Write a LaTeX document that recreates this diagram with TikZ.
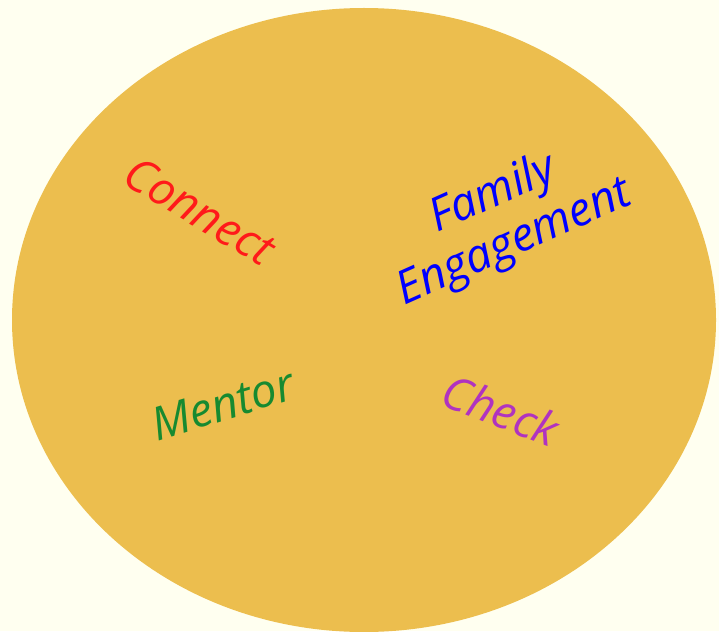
\documentclass[tikz,border=0pt]{standalone}
\usepackage{fontspec}
\setmainfont{Open Sans}
\usepackage{tikz}
\usetikzlibrary{positioning}
\definecolor{bgIvory}{HTML}{FFFFF0}
\definecolor{blobGold}{HTML}{ECBE4E}
\definecolor{connectRed}{HTML}{FF1A1A}
\definecolor{familyBlue}{HTML}{0000FF}
\definecolor{mentorGreen}{HTML}{178A30}
\definecolor{checkPurple}{HTML}{B033C0}
\tikzstyle{wordNode}=[inner sep=0pt, font=\fontsize{46}{53}\selectfont\itshape, align=center]

\begin{document}
\begin{tikzpicture}[x=1pt, y=-1pt]

    % background and ellipse

    \fill[bgIvory] (0,0) rectangle (719,631);
    \useasboundingbox (0,0) rectangle (719,631);
    \fill[blobGold] (364,320) ellipse [x radius=352, y radius=312];

    % words

    \node[wordNode, text=connectRed, rotate=-31] (connect) at (200,211) {Connect};
    \node[wordNode, text=familyBlue, rotate=24] (family) at (504,219) {Family\\Engagement};
    \node[wordNode, text=mentorGreen, rotate=17] (mentor) at (223,404) {Mentor};
    \node[wordNode, text=checkPurple, rotate=-21] (check) at (501,410) {Check};

\end{tikzpicture}
\end{document}
